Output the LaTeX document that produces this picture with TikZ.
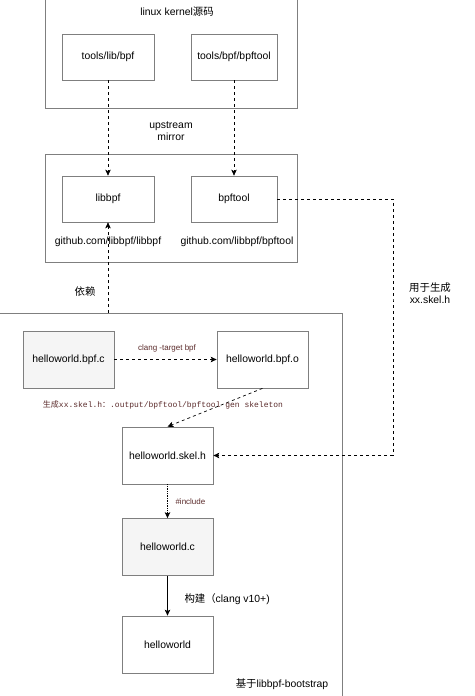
\documentclass[tikz,border=0pt]{standalone}
\usepackage{fontspec}
\setmainfont{Liberation Sans}
\setmonofont{Liberation Mono}
\newfontfamily\cjk{Noto Sans CJK SC}
\usepackage{tikz}
\usetikzlibrary{arrows.meta}
\usepackage{xcolor}
\definecolor{boxgray}{HTML}{7F7F7F}
\definecolor{srcfill}{HTML}{F5F5F5}
\definecolor{lblred}{HTML}{5A2A2A}

\begin{document}
\begin{tikzpicture}[
	group/.style = {rectangle,
		draw = boxgray,
		line width = 0.7pt,
		fill = none},
	file/.style = {rectangle,
		draw = boxgray,
		line width = 0.7pt,
		text = black,
		fill = white,
		align = center,
		minimum height = 46pt,
		font = \fontsize{10.4}{12}\selectfont},
	srcfile/.style = {file,
		fill = srcfill,
		minimum width = 91pt,
		minimum height = 57pt},
	txt/.style = {align = center,
		font = \fontsize{10.4}{12.5}\selectfont},
	small/.style = {text = lblred,
		font = \fontsize{8}{9}\selectfont},
	flow/.style = {black, line width = 0.7pt, -{Stealth[length=6pt, width=5.5pt, inset=1.5pt]}}
	]
	
	\useasboundingbox (0pt,0pt) rectangle (474pt,-696pt);
	
	% groups
	\node[group, minimum width = 252pt, minimum height = 120pt] (kernel) at (171pt,-48pt) {};
	\node[group, minimum width = 252pt, minimum height = 108pt] (github) at (171pt,-208pt) {};
	\node[group, minimum width = 346pt, minimum height = 400pt] (boot) at (169pt,-513pt) {};
	
	\node[txt] (kernellbl) at (177pt,-12pt) {linux kernel{\cjk 源码}};
	\node[txt] (mirrorlbl) at (171pt,-131pt) {upstream\\mirror};
	\node[txt] (libgit) at (108pt,-242pt) {github.com/libbpf/libbpf};
	\node[txt] (toolgit) at (237pt,-242pt) {github.com/libbpf/bpftool};
	\node[txt] (bootlbl) at (282pt,-684pt) {{\cjk 基于}libbpf-bootstrap};
	
	% kernel sources
	\node[file, minimum width = 92pt] (toolslib) at (108pt,-57pt) {tools/lib/bpf};
	\node[file, minimum width = 86pt] (toolsbpf) at (234pt,-57pt) {tools/bpf/bpftool};
	
	% mirrors
	\node[file, minimum width = 92pt] (libbpf) at (108pt,-199pt) {libbpf};
	\node[file, minimum width = 86pt] (bpftool) at (234pt,-199pt) {bpftool};
	
	% bootstrap files
	\node[srcfile] (bpfc) at (68.5pt,-359.5pt) {helloworld.bpf.c};
	\node[file, minimum width = 91pt, minimum height = 57pt] (bpfo) at (262.5pt,-359.5pt) {helloworld.bpf.o};
	\node[file, minimum width = 91pt, minimum height = 57pt] (skel) at (167.5pt,-455.5pt) {helloworld.skel.h};
	\node[srcfile] (helloc) at (167.5pt,-547pt) {helloworld.c};
	\node[file, minimum width = 91pt, minimum height = 57pt] (hello) at (167.5pt,-644.5pt) {helloworld};
	
	\coordinate (dep) at (108pt,-313pt);
	\coordinate (gen) at (393pt,-300pt);
	
	% connectors
	\draw[flow, dashed] (toolslib) to (libbpf);
	\draw[flow, dashed] (toolsbpf) to (bpftool);
	\draw[flow, dashed] (dep) to (libbpf);
	\draw[flow, dashed] (bpftool.east) -| (gen) |- (skel.east);
	\draw[flow, dashed] (bpfc) to (bpfo);
	\draw[flow, dashed] (bpfo.south) to (skel.north);
	\draw[flow, densely dotted] (skel) to (helloc);
	\draw[flow] (helloc) to (hello);
	
	% labels
	\node[txt] (deplbl) at (85pt,-292pt) {\cjk 依赖};
	\node[txt] (genlbl) at (430pt,-293pt) {{\cjk 用于生成}\\xx.skel.h};
	\node[small] (clanglbl) at (167pt,-348pt) {clang -target bpf};
	\node[small] (skellbl) at (163pt,-405pt) {{\cjk 生成}\texttt{xx.skel.h}{\cjk ：}\texttt{.output/bpftool/bpftool gen skeleton}};
	\node[small, anchor = west] (inclbl) at (172pt,-502pt) {\#include};
	\node[txt, anchor = west] (buildlbl) at (181pt,-599pt) {{\cjk 构建（}clang v10+)};
	
\end{tikzpicture}
\end{document}
